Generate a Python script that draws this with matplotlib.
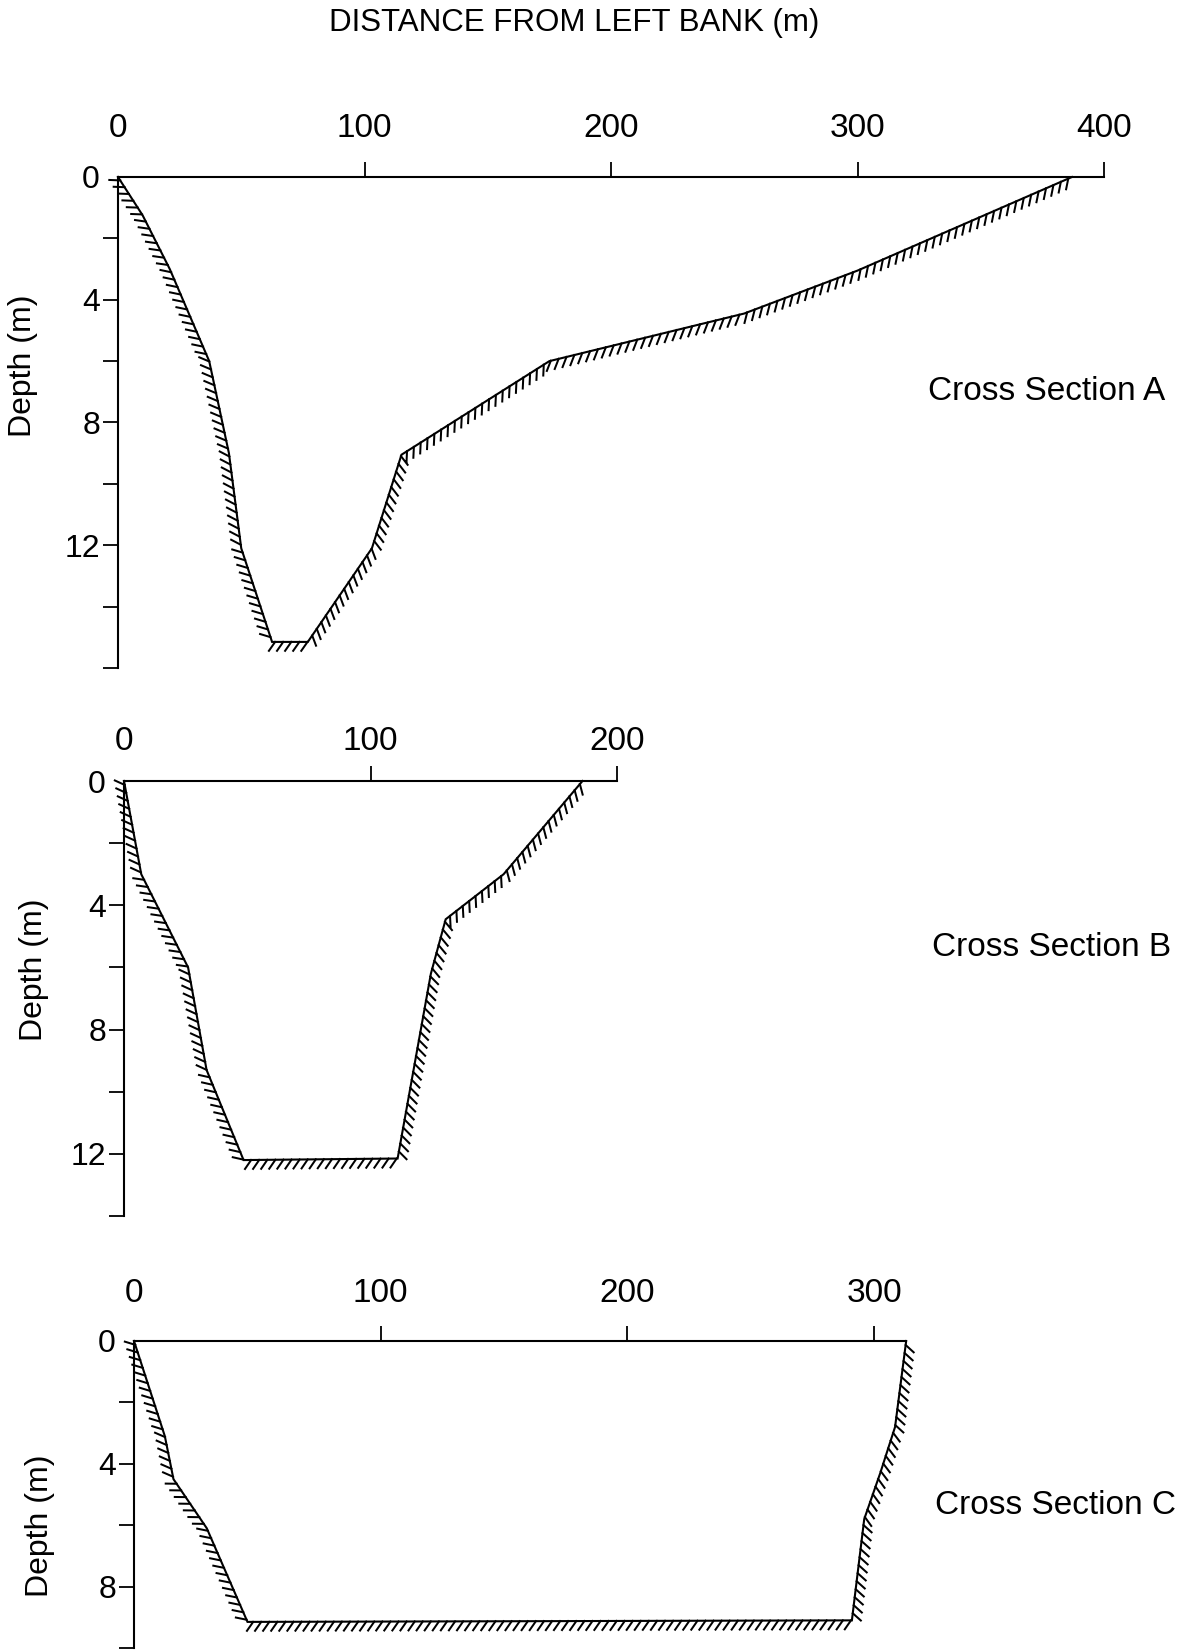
import matplotlib
matplotlib.use("Agg")
import matplotlib.pyplot as plt
import matplotlib.patheffects as pe

plt.rcParams['font.family'] = ['Liberation Sans', 'DejaVu Sans']

# Bed profiles: distance from left bank (m) and depth below water surface (m)
a_dist = [0, 10, 21, 37, 45, 50, 62.5, 77, 103, 115, 175, 254, 300, 387]
a_depth = [0, 1.25, 3.0, 6.0, 9.0, 12.1, 15.15, 15.15, 12.1, 9.05, 6.0, 4.45, 3.05, 0]

b_dist = [0, 7, 26, 33.5, 48.5, 111, 124.5, 130.5, 154, 186]
b_depth = [0, 3.0, 6.0, 9.3, 12.2, 12.15, 6.2, 4.45, 3.0, 0]

c_dist = [0, 12.5, 16, 29.5, 46, 291, 296, 302.5, 308.5, 313]
c_depth = [0, 3.1, 4.5, 6.1, 9.15, 9.1, 5.8, 4.3, 2.8, 0]

a_xticks = [0, 100, 200, 300, 400]
b_xticks = [0, 100, 200]
c_xticks = [0, 100, 200, 300]

title = "DISTANCE FROM LEFT BANK (m)"
depth_label = "Depth (m)"

fig = plt.figure(figsize=(11.8, 16.5), dpi=100)

XFS = 24
YFS = 23
# short slanted strokes on the ground side of the bed line
bed_effect = [pe.withTickedStroke(angle=-125, spacing=5.8, length=1.35, linewidth=1.45)]


def draw_section(rect, dist, depth, xmax, xticks, ymax, ymajor, yminor, xpad):
    ax = fig.add_axes(rect)
    ax.plot(dist, depth, color='black', lw=1.5, clip_on=False,
            solid_joinstyle='miter', path_effects=bed_effect)
    ax.set_xlim(0, xmax)
    ax.set_ylim(ymax, 0)
    ax.patch.set_visible(False)

    for side in ('right', 'bottom'):
        ax.spines[side].set_visible(False)
    for side in ('top', 'left'):
        ax.spines[side].set_linewidth(1.5)

    ax.xaxis.tick_top()
    ax.set_xticks(xticks)
    ax.set_xticklabels([str(t) for t in xticks])
    ax.tick_params(axis='x', which='major', direction='out', length=11,
                   width=1.3, pad=xpad, labelsize=XFS)
    ax.xaxis.get_major_ticks()[0].tick2line.set_visible(False)

    ax.set_yticks(ymajor)
    ax.set_yticklabels([str(t) for t in ymajor])
    ax.set_yticks(yminor, minor=True)
    ax.tick_params(axis='y', which='both', direction='out', length=11,
                   width=1.3, pad=2, labelsize=YFS)
    ax.yaxis.get_major_ticks()[0].tick1line.set_visible(False)
    return ax


W, H = 1180.0, 1650.0


def rect_px(x0, x1, y0, y1):
    return [x0 / W, 1 - y1 / H, (x1 - x0) / W, (y1 - y0) / H]


ax_a = draw_section(rect_px(118, 1104, 177, 668), a_dist, a_depth, 400, a_xticks,
                    16, [0, 4, 8, 12], [2, 6, 10, 14, 16], 13)
ax_b = draw_section(rect_px(124, 617, 781, 1216), b_dist, b_depth, 200, b_xticks,
                    14, [0, 4, 8, 12], [2, 6, 10, 14], 6)
ax_c = draw_section(rect_px(134, 134 + 313 * 2.467, 1341, 1648), c_dist, c_depth, 313,
                    c_xticks, 10, [0, 4, 8], [2, 6, 10], 12)

fig.text(574 / W, 1 - 23 / H, title, ha='center', va='center', fontsize=22.5)

for (x, y) in [(23, 366), (34, 970), (40, 1526)]:
    fig.text(x / W, 1 - y / H, depth_label, rotation=90, ha='center', va='center',
             fontsize=23)

for name, (x, y) in [("Cross Section A", (928, 392)),
                     ("Cross Section B", (932, 947)),
                     ("Cross Section C", (935, 1505))]:
    fig.text(x / W, 1 - y / H, name, ha='left', va='center', fontsize=24)

fig.savefig("out.png", dpi=100, facecolor='white')
